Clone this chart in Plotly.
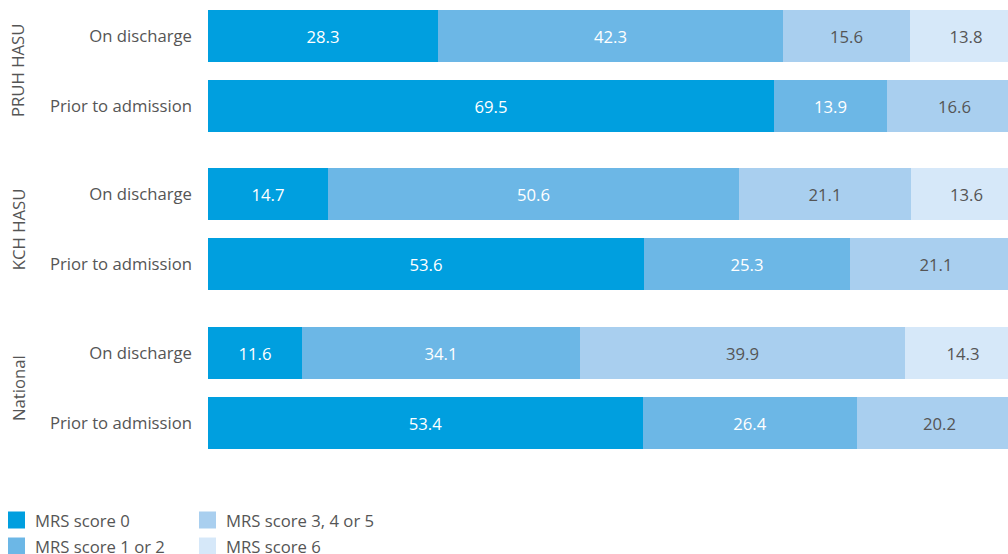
import plotly.graph_objects as go

# Data
groups = ["PRUH HASU", "KCH HASU", "National"]
row_labels = ["On discharge", "Prior to admission",
              "On discharge", "Prior to admission",
              "On discharge", "Prior to admission"]
series_names = ["MRS score 0", "MRS score 1 or 2", "MRS score 3, 4 or 5", "MRS score 6"]
mrs0 = [28.3, 69.5, 14.7, 53.6, 11.6, 53.4]
mrs12 = [42.3, 13.9, 50.6, 25.3, 34.1, 26.4]
mrs345 = [15.6, 16.6, 21.1, 21.1, 39.9, 20.2]
mrs6 = [13.8, None, 13.6, None, 14.3, None]

# Layout positions (rows) and styling
row_pos = [0, 1, 2.26, 3.26, 4.53, 5.53]
colors = ["#009fdf", "#6cb7e6", "#a9cfef", "#d6e8f9"]
text_colors = ["#ffffff", "#ffffff", "#555555", "#555555"]
FONT = "Open Sans, Noto Sans, sans-serif"
FS = 16.7

W, H = 1008, 554
ML, MR, MT, MB = 208, 0, 10, 105
PW, PH = W - ML - MR, H - MT - MB

def px_x(p):
    return (p - ML) / PW

def px_y(p):
    return (H - MB - p) / PH

fig = go.Figure()
for name, vals, c, tc in zip(series_names, [mrs0, mrs12, mrs345, mrs6], colors, text_colors):
    fig.add_trace(go.Bar(
        name=name, y=row_pos, x=vals, orientation="h",
        marker=dict(color=c, line=dict(width=0)),
        width=0.743,
        text=[f"{v:.1f}" if v is not None else "" for v in vals],
        textposition="inside", insidetextanchor="middle",
        textfont=dict(color=tc, size=FS, family=FONT),
        showlegend=False, hoverinfo="x+name",
    ))

fig.update_layout(
    barmode="stack",
    width=W, height=H,
    margin=dict(l=ML, r=MR, t=MT, b=MB, autoexpand=False),
    paper_bgcolor="white", plot_bgcolor="white",
    font=dict(family=FONT, color="#555555", size=FS),
    xaxis=dict(range=[0, 98.3], showgrid=False, zeroline=False, showticklabels=False,
               fixedrange=True, automargin=False),
    yaxis=dict(range=[5.9, -0.371], tickvals=row_pos, ticktext=row_labels,
               showgrid=False, zeroline=False, ticks="", ticklabelstandoff=15,
               automargin=False, fixedrange=True,
               tickfont=dict(size=FS, color="#555555", family=FONT)),
    showlegend=False,
    bargap=0,
)

# Group labels (rotated)
group_centers = [0.5, 2.76, 5.03]
for g, yc in zip(groups, group_centers):
    fig.add_annotation(text=g, x=px_x(18), xref="paper", y=yc, yref="y",
                       xanchor="center", yanchor="middle",
                       textangle=-90, showarrow=False,
                       font=dict(size=FS, color="#555555", family=FONT))

# Manual legend (2 columns x 2 rows)
legend_slots = [(8, 520), (8, 546), (199, 520), (199, 546)]
for name, c, (lx, ly) in zip(series_names, colors, legend_slots):
    fig.add_shape(type="rect", xref="paper", yref="paper",
                  x0=px_x(lx), x1=px_x(lx + 17), y0=px_y(ly - 8.5), y1=px_y(ly + 8.5),
                  fillcolor=c, line=dict(width=0))
    fig.add_annotation(text=name, xref="paper", yref="paper",
                       x=px_x(lx + 25), y=px_y(ly), xanchor="left", yanchor="middle",
                       showarrow=False, font=dict(size=FS, color="#555555", family=FONT))

fig.write_html("out.html", config={"displayModeBar": False},
               post_script="document.body.style.margin='0';document.body.style.overflow='hidden';")
